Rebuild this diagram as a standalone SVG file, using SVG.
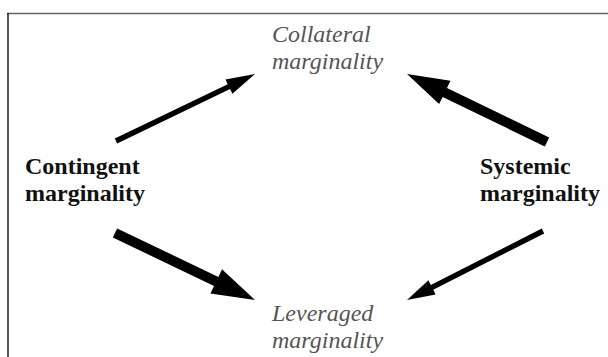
<svg xmlns="http://www.w3.org/2000/svg" width="608" height="357" viewBox="0 0 608 357">
<style>
.it{font-family:"Liberation Serif","Times New Roman",serif;font-style:italic;font-size:24px;fill:#555}
.bd{font-family:"Liberation Serif","Times New Roman",serif;font-weight:bold;font-size:24px;fill:#111}
.ar{fill:#000}
</style>
<rect width="608" height="357" fill="#fff"/>
<g id="frame">
<line x1="7" y1="13.5" x2="608" y2="13.5" stroke="#666" stroke-width="1.6"/>
<line x1="8" y1="13" x2="8" y2="357" stroke="#111" stroke-width="1.4"/>
</g>
<g id="collateral"><text class="it" x="272" y="42">Collateral</text><text class="it" x="272" y="69">marginality</text></g>
<g id="contingent"><text class="bd" x="25" y="174">Contingent</text><text class="bd" x="25" y="201">marginality</text></g>
<g id="systemic"><text class="bd" x="480" y="174">Systemic</text><text class="bd" x="480" y="201">marginality</text></g>
<g id="leveraged"><text class="it" x="272" y="321">Leveraged</text><text class="it" x="272" y="348">marginality</text></g>
<g id="connectors">
<polygon class="ar" points="114.8,138.6 227.7,84.2 225.4,79.4 255,74 232.4,93.8 230.1,89.0 117.2,143.4"/>
<polygon class="ar" points="549.2,137.5 447.0,87.9 450.5,80.7 407,74 439.1,104.1 442.6,96.9 544.8,146.5"/>
<polygon class="ar" points="117.2,228.5 218.4,276.9 222.0,269.2 255,300 210.4,293.6 214.0,285.9 112.8,237.5"/>
<polygon class="ar" points="541.8,228.6 430.8,284.9 428.4,280.2 407,300 435.6,294.4 433.2,289.7 544.2,233.4"/>
</g>
</svg>
